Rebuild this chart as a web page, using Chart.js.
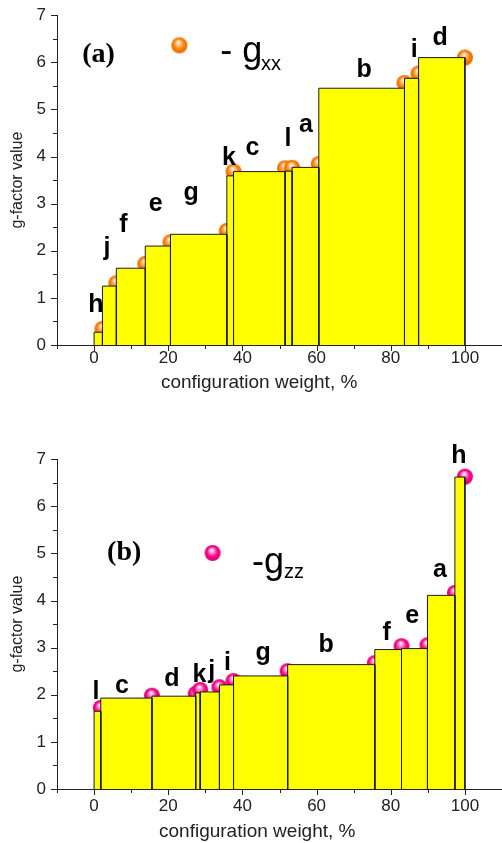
<!DOCTYPE html>
<html>
<head>
<meta charset="utf-8">
<script src="https://cdn.jsdelivr.net/npm/chart.js@4.4.1/dist/chart.umd.min.js"></script>
<style>
  html, body { margin: 0; padding: 0; background: #fff; }
  body { width: 502px; height: 843px; position: relative; overflow: hidden; }
  canvas { position: absolute; left: 0; }
  #chartA { top: 0; }
  #chartB { top: 444px; }
</style>
</head>
<body>
<canvas id="chartA" width="502" height="400"></canvas>
<canvas id="chartB" width="502" height="399"></canvas>
<script>
// panel (a): g_xx, one bar per configuration, bar ends = cumulative weight
const xxNames  = ['h', 'j', 'f', 'e', 'g', 'k', 'c', 'l', 'a', 'b', 'i', 'd'];
const xxEnd    = [2.25, 6.0, 13.8, 20.6, 35.8, 37.6, 51.5, 53.4, 60.6, 83.7, 87.5, 100];
const xxValues = [0.27, 1.25, 1.63, 2.10, 2.35, 3.59, 3.68, 3.69, 3.77, 5.45, 5.66, 6.10];
const xxBalls  = [0.34, 1.31, 1.72, 2.18, 2.42, 3.68, 3.75, 3.76, 3.84, 5.56, 5.76, 6.10];

// panel (b): g_zz
const zzNames  = ['l', 'c', 'd', 'k', 'j', 'i', 'g', 'b', 'f', 'e', 'a', 'h'];
const zzEnd    = [1.8, 15.6, 27.4, 28.6, 33.8, 37.6, 52.2, 75.7, 82.9, 89.9, 97.3, 100];
const zzValues = [1.65, 1.93, 1.97, 2.04, 2.06, 2.21, 2.40, 2.64, 2.96, 2.98, 4.11, 6.62];
const zzBalls  = [1.72, 1.98, 2.02, 2.10, 2.16, 2.29, 2.50, 2.67, 3.03, 3.05, 4.16, 6.63];

// tick labels
const xTicks = [0, 20, 40, 60, 80, 100];
const yTicks = [0, 1, 2, 3, 4, 5, 6, 7];

// where the letters sit (data units)
const xxLabelAt = [[0.5, 0.71], [3.5, 1.90], [7.9, 2.40], [16.6, 2.85], [26.2, 3.07], [36.4, 3.82],
                   [42.7, 4.03], [52.3, 4.22], [57.1, 4.52], [72.8, 5.69], [86.3, 6.12], [93.3, 6.36]];
const zzLabelAt = [[0.5, 1.92], [7.5, 2.03], [21.0, 2.18], [28.4, 2.28], [31.7, 2.35], [36.0, 2.52],
                   [45.6, 2.73], [62.6, 2.91], [78.9, 3.16], [85.8, 3.52], [93.3, 4.50], [98.4, 6.91]];

const ARIAL = '"Liberation Sans", Arial, sans-serif';
const TIMES = '"Liberation Serif", "Times New Roman", serif';

// little shaded ball used as point style
function sphere(light, base, dark) {
  const c = document.createElement('canvas');
  c.width = c.height = 18;
  const g = c.getContext('2d');
  const grad = g.createRadialGradient(8, 6, 0.5, 9, 9, 8.5);
  grad.addColorStop(0, '#ffffff');
  grad.addColorStop(0.25, light);
  grad.addColorStop(0.6, base);
  grad.addColorStop(1, dark);
  g.fillStyle = grad;
  g.beginPath();
  g.arc(9, 9, 8, 0, Math.PI * 2);
  g.fill();
  return c;
}
const orangeBall = sphere('#ffc080', '#ff8000', '#e06000');
const pinkBall = sphere('#ff88c8', '#ff0088', '#d0006a');

// draws the outward tick marks, long at labelled values, short in between
const tickMarks = {
  id: 'tickMarks',
  afterDraw(chart) {
    const {ctx, scales: {x, y}, chartArea: a} = chart;
    ctx.save();
    ctx.strokeStyle = '#222';
    ctx.lineWidth = 1;
    ctx.beginPath();
    x.ticks.forEach(t => {
      const px = Math.round(x.getPixelForValue(t.value)) + 0.5;
      const len = xTicks.includes(t.value) ? 6 : 4;
      ctx.moveTo(px, a.bottom);
      ctx.lineTo(px, a.bottom + len);
    });
    y.ticks.forEach(t => {
      const py = Math.round(y.getPixelForValue(t.value)) + 0.5;
      const len = yTicks.includes(t.value) ? 6 : 4;
      ctx.moveTo(a.left, py);
      ctx.lineTo(a.left - len, py);
    });
    ctx.stroke();
    ctx.restore();
  }
};

// letters over the bars, x axis title, panel tag and ball legend
const notes = {
  id: 'notes',
  afterDatasetsDraw(chart, args, opts) {
    const {ctx, scales: {x, y}} = chart;
    ctx.save();
    ctx.fillStyle = '#000';
    ctx.textBaseline = 'alphabetic';
    ctx.textAlign = 'center';
    ctx.font = 'bold 25px ' + ARIAL;
    opts.names.forEach((n, i) => {
      const p = opts.labelAt[i];
      ctx.fillText(n, x.getPixelForValue(p[0]), y.getPixelForValue(p[1]));
    });
    opts.texts.forEach(t => {
      ctx.font = t.font;
      ctx.textAlign = t.align || 'left';
      ctx.fillText(t.text, x.getPixelForValue(t.x), y.getPixelForValue(t.y));
    });
    const b = opts.ball;
    ctx.drawImage(b.img, x.getPixelForValue(b.x) - 9, y.getPixelForValue(b.y) - 9);

    // axis title sits a bit left of the plot centre in the original
    ctx.fillStyle = '#222';
    ctx.font = '19px ' + ARIAL;
    ctx.textAlign = 'center';
    ctx.textBaseline = 'middle';
    ctx.fillText('configuration weight, %', x.getPixelForValue(opts.xTitle[0]), y.getPixelForValue(opts.xTitle[1]));
    ctx.restore();
  }
};

function barSets(ends, values) {
  return values.map((v, i) => {
    const x0 = i === 0 ? 0 : ends[i - 1];
    return {
      type: 'line',
      data: [{x: x0, y: 0}, {x: x0, y: v}, {x: ends[i], y: v}, {x: ends[i], y: 0}],
      borderColor: '#1a1a1a',
      borderWidth: 1,
      backgroundColor: '#ffff00',
      fill: 'origin',
      pointRadius: 0,
      pointHitRadius: 0,
      tension: 0,
      order: 0
    };
  });
}

function makeChart(id, ends, values, balls, names, labelAt, ball, texts, labelGap, xTitle) {
  const h = document.getElementById(id).height;
  const datasets = barSets(ends, values);
  datasets.push({
    type: 'scatter',
    data: ends.map((e, i) => ({x: e, y: balls[i]})),
    pointStyle: ball.img,
    order: 1
  });
  return new Chart(document.getElementById(id), {
    type: 'scatter',
    data: {datasets},
    options: {
      responsive: false,
      animation: false,
      events: [],
      layout: {autoPadding: false, padding: {top: 15, left: 0, right: 0, bottom: 0}},
      plugins: {
        legend: {display: false},
        tooltip: {enabled: false},
        notes: {names, labelAt, ball, texts, xTitle}
      },
      scales: {
        x: {
          type: 'linear',
          min: -10,
          max: 110,
          afterFit: s => { s.height = h - 345; s.paddingLeft = 0; s.paddingRight = 0; },
          border: {display: true, color: '#222', width: 1},
          grid: {display: true, drawOnChartArea: false, tickLength: labelGap, tickColor: 'rgba(0,0,0,0)'},
          ticks: {
            stepSize: 10,
            autoSkip: false,
            maxRotation: 0,
            padding: 0,
            color: '#222',
            font: {family: ARIAL, size: 17},
            callback: v => xTicks.includes(v) ? v : ''
          },
          title: {display: false}
        },
        y: {
          min: 0,
          max: 7,
          afterFit: s => { s.width = 57; },
          border: {display: true, color: '#222', width: 1},
          grid: {display: true, drawOnChartArea: false, tickLength: 6, tickColor: 'rgba(0,0,0,0)'},
          ticks: {
            stepSize: 0.5,
            autoSkip: false,
            padding: 5,
            color: '#222',
            font: {family: ARIAL, size: 17},
            callback: v => yTicks.includes(v) ? v : ''
          },
          title: {
            display: true,
            text: 'g-factor value',
            color: '#222',
            font: {family: ARIAL, size: 16},
            padding: {top: 8, bottom: 0}
          }
        }
      }
    },
    plugins: [tickMarks, notes]
  });
}

makeChart('chartA', xxEnd, xxValues, xxBalls, xxNames, xxLabelAt,
  {img: orangeBall, x: 23.0, y: 6.36},
  [
    {text: '(a)', x: -3.2, y: 6.0, font: 'bold 28px ' + TIMES},
    {text: '- g', x: 34.0, y: 6.0, font: '36px ' + ARIAL},
    {text: 'xx', x: 45.0, y: 5.83, font: '20px ' + ARIAL}
  ], 3.5, [44.5, -0.81]);

makeChart('chartB', zzEnd, zzValues, zzBalls, zzNames, zzLabelAt,
  {img: pinkBall, x: 31.95, y: 5.01},
  [
    {text: '(b)', x: 3.5, y: 4.86, font: 'bold 28px ' + TIMES},
    {text: '-g', x: 42.6, y: 4.59, font: '36px ' + ARIAL},
    {text: 'zz', x: 51.2, y: 4.47, font: '20px ' + ARIAL}
  ], 7, [44.0, -0.91]);
</script>
</body>
</html>
